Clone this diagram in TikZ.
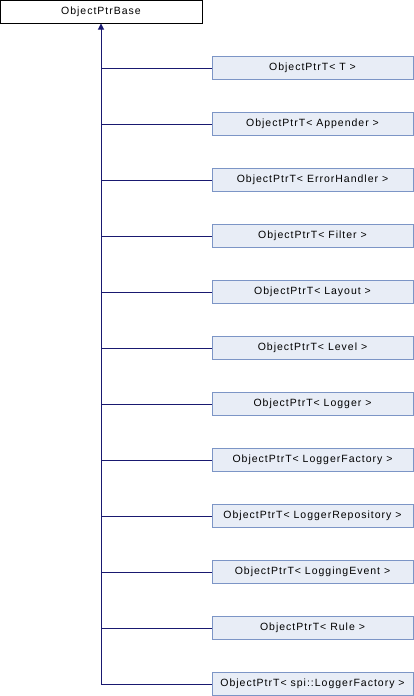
\documentclass[tikz,border=0pt]{standalone}
\usepackage{fontspec}
\setmainfont{Liberation Sans}
\newfontfamily\dxfont[LetterSpace=9.5]{Liberation Sans}
\usetikzlibrary{arrows.meta}
\definecolor{edgeblue}{HTML}{191970}
\definecolor{childfill}{HTML}{E8EDF6}
\definecolor{childdraw}{HTML}{7C95C6}
\tikzset{
  basebox/.style={draw=black, fill=white, line width=1pt, minimum width=202pt, minimum height=23pt, inner sep=0pt, font=\dxfont\fontsize{10.5}{12}\selectfont},
  childbox/.style={draw=childdraw, fill=childfill, line width=1pt, minimum width=201pt, minimum height=23pt, inner sep=0pt, font=\dxfont\fontsize{10.5}{12}\selectfont},
  inherit/.style={draw=edgeblue, line width=1pt},
}
\begin{document}
\begin{tikzpicture}[x=1pt,y=-1pt]
\useasboundingbox (0,0) rectangle (414,696);
\node[basebox] (base) at (101,11.5) {ObjectPtrBase};
\coordinate (trunk) at (101,684);
\foreach \i/\t in {0/{ObjectPtrT< T >},1/{ObjectPtrT< Appender >},2/{ObjectPtrT< ErrorHandler >},3/{ObjectPtrT< Filter >},4/{ObjectPtrT< Layout >},5/{ObjectPtrT< Level >},6/{ObjectPtrT< Logger >},7/{ObjectPtrT< LoggerFactory >},8/{ObjectPtrT< LoggerRepository >},9/{ObjectPtrT< LoggingEvent >},10/{ObjectPtrT< Rule >},11/{ObjectPtrT< spi::LoggerFactory >}}{
  \node[childbox] (c\i) at (312.5,{68+56*\i}) {\t};
  \draw[inherit] (c\i.west) -- (101,{68+56*\i});
}
\draw[inherit, -{Triangle[length=6pt,width=6pt]}] (trunk) -- (base.south);
\end{tikzpicture}
\end{document}
